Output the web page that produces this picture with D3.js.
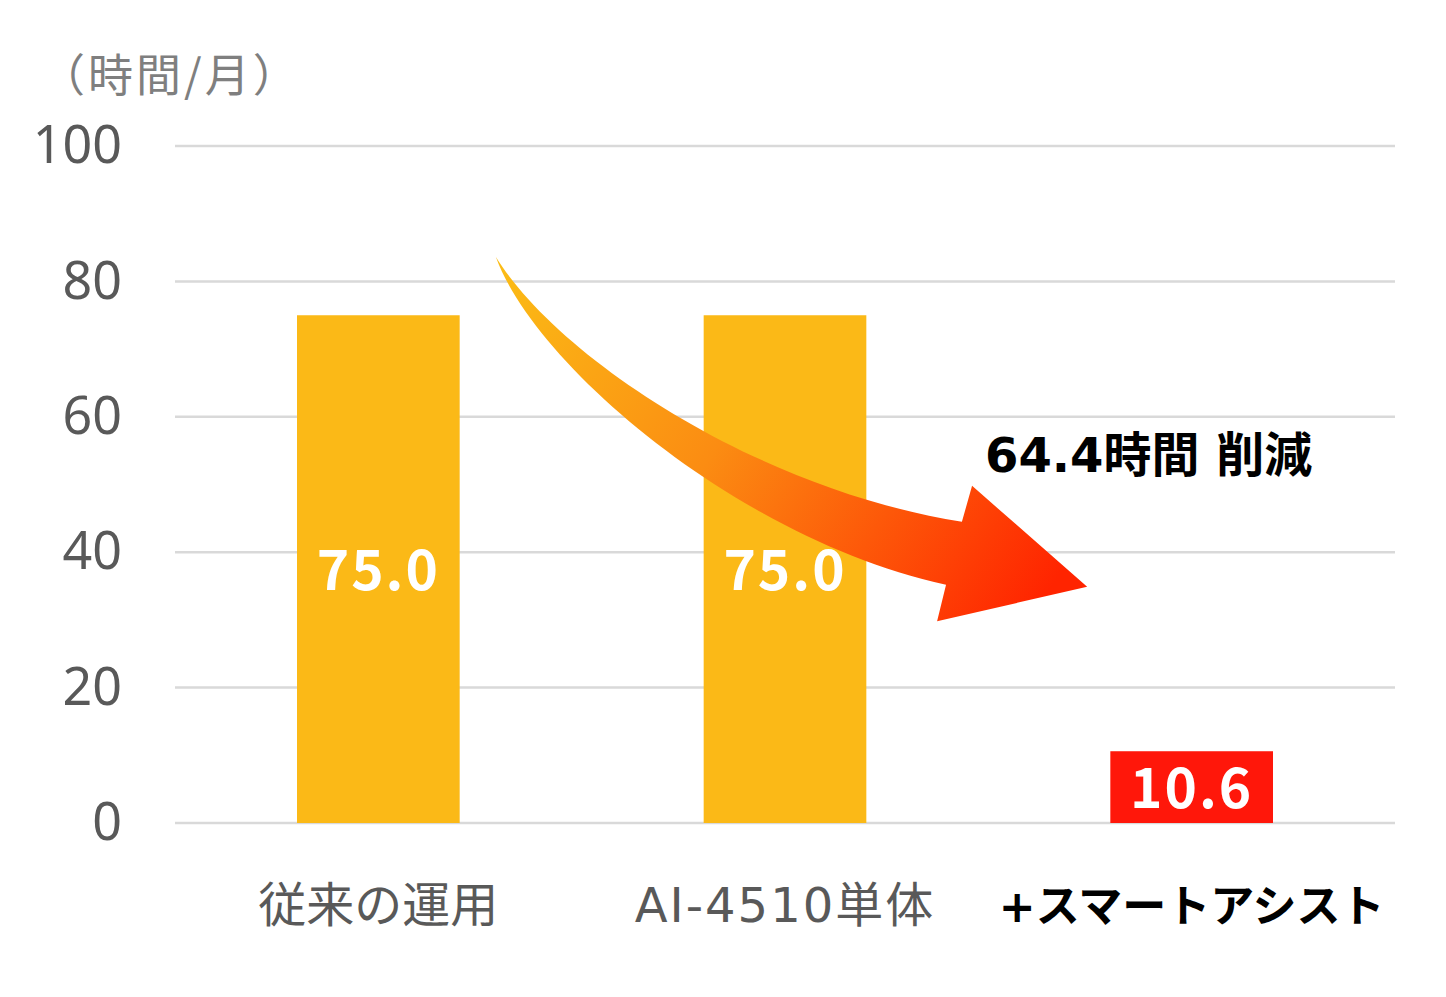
<!DOCTYPE html>
<html>
<head>
<meta charset="utf-8">
<script src="https://cdn.jsdelivr.net/npm/d3@7"></script>
<style>
  body { margin: 0; background: #fff; }
  svg { display: block; font-family: "Noto Sans CJK JP", "Noto Sans", sans-serif; }
</style>
</head>
<body>
<script>
// data
const categories = ['従来の運用', 'AI-4510単体', '+スマートアシスト'];
const values = [75.0, 75.0, 10.6];
const barColors = ['#FBB917', '#FBB917', '#FF170A'];
const yTicks = [0, 20, 40, 60, 80, 100];
const unitLabel = '（時間/月）';
const reductionLabel = '64.4時間 削減';

// arrow outline in chart units: [category position, value]
const arrowUpper = [[0.789, 83.6], [0.947, 68.4], [1.439, 49.2], [1.935, 44.5]];
const arrowHead = [[1.960, 49.8], [2.243, 34.9], [1.874, 29.8], [1.896, 35.2]];
const arrowLower = [[1.896, 35.2], [1.389, 41.8], [0.885, 67.7], [0.789, 83.6]];

const width = 1446, height = 997;
const plotLeft = 175, plotRight = 1395, plotTop = 146, plotBottom = 823;
const latinFont = '"DejaVu Sans", "Noto Sans CJK JP", sans-serif';

const svg = d3.select('body').append('svg')
    .attr('width', width)
    .attr('height', height);

const x = d3.scaleBand()
    .domain(categories)
    .range([plotLeft, plotRight])
    .paddingInner(0.6)
    .paddingOuter(0.3);

// continuous x in category units, for the annotation arrow
const xc = d3.scaleLinear().domain([0, 3]).range([plotLeft, plotRight]);

const y = d3.scaleLinear()
    .domain([0, 100])
    .range([plotBottom, plotTop]);

//gridlines
svg.append('g')
    .selectAll('line')
    .data(yTicks)
    .enter()
    .append('line')
    .attr('x1', plotLeft)
    .attr('x2', plotRight)
    .attr('y1', d => y(d))
    .attr('y2', d => y(d))
    .attr('stroke', '#d9d9d9')
    .attr('stroke-width', 2.5);

//y axis labels
const yAxis = d3.axisLeft(y)
    .tickValues(yTicks)
    .tickSize(0)
    .tickPadding(0)
    .tickFormat(d3.format('d'));

const gy = svg.append('g')
    .attr('transform', `translate(122, 0)`)
    .call(yAxis);
gy.select('.domain').remove();
gy.selectAll('text')
    .attr('fill', '#595959')
    .style('font-size', '52px')
    .style('font-family', '"Noto Sans", "Noto Sans CJK JP", sans-serif');

//unit label
svg.append('text')
    .attr('x', 40)
    .attr('y', 92)
    .attr('fill', '#7f7f7f')
    .style('font-size', '45px')
    .style('letter-spacing', '3px')
    .text(unitLabel);

//bars
svg.append('g')
    .selectAll('rect')
    .data(values)
    .enter()
    .append('rect')
    .attr('x', (d, i) => x(categories[i]))
    .attr('y', d => y(d))
    .attr('width', x.bandwidth())
    .attr('height', d => y(0) - y(d))
    .attr('fill', (d, i) => barColors[i]);

//value labels
svg.append('g')
    .selectAll('text')
    .data(values)
    .enter()
    .append('text')
    .attr('x', (d, i) => x(categories[i]) + x.bandwidth() / 2)
    .attr('y', d => (y(d) + y(0)) / 2)
    .attr('dy', '0.38em')
    .attr('text-anchor', 'middle')
    .attr('fill', '#fff')
    .style('font-size', '55px')
    .style('font-weight', 'bold')
    .style('letter-spacing', '2px')
    .text(d => d3.format('.1f')(d));

//x axis labels
const xAxis = d3.axisBottom(x).tickSize(0).tickPadding(0);
const gx = svg.append('g')
    .attr('transform', `translate(0, 922)`)
    .call(xAxis);
gx.select('.domain').remove();
gx.selectAll('text')
    .attr('dy', 0)
    .attr('fill', (d, i) => i === 2 ? '#000' : '#595959')
    .style('font-family', latinFont)
    .style('font-size', (d, i) => i === 2 ? '44px' : '48px')
    .style('letter-spacing', (d, i) => i === 1 ? '2px' : '0px')
    .style('font-weight', (d, i) => i === 2 ? 'bold' : 'normal');

//arrow
const grad = svg.append('defs')
    .append('linearGradient')
    .attr('id', 'arrowGrad')
    .attr('gradientUnits', 'userSpaceOnUse')
    .attr('x1', xc(0.789)).attr('y1', y(83.6))
    .attr('x2', xc(2.1)).attr('y2', y(30));
grad.append('stop').attr('offset', '0%').attr('stop-color', '#FBBD16');
grad.append('stop').attr('offset', '45%').attr('stop-color', '#FB8C12');
grad.append('stop').attr('offset', '100%').attr('stop-color', '#FF2400');

const pt = d => [xc(d[0]), y(d[1])];
const path = d3.path();
let p = arrowUpper.map(pt);
path.moveTo(...p[0]);
path.bezierCurveTo(...p[1], ...p[2], ...p[3]);
arrowHead.map(pt).forEach(q => path.lineTo(...q));
p = arrowLower.map(pt);
path.bezierCurveTo(...p[1], ...p[2], ...p[3]);
path.closePath();

svg.append('path')
    .attr('d', path.toString())
    .attr('fill', 'url(#arrowGrad)');

//reduction label
svg.append('text')
    .attr('x', 985)
    .attr('y', 472)
    .attr('fill', '#000')
    .style('font-family', latinFont)
    .style('font-size', '48px')
    .style('font-weight', 'bold')
    .text(reductionLabel);
</script>
</body>
</html>
